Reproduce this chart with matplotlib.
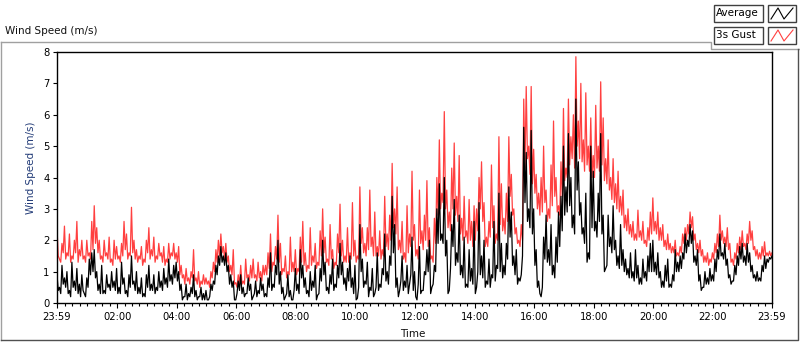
import numpy as np
import matplotlib
matplotlib.use("Agg")
import matplotlib.pyplot as plt
from matplotlib.patches import Rectangle

# minutes after 23:59 of the previous day, one reading every 5 minutes
minutes = np.arange(0, 1441, 5)

gust = [
    2.4, 1.4, 1.9, 2.45, 1.6, 2.2, 1.5, 2.0, 2.6, 1.7, 2.0, 1.5,
    2.0, 1.6, 2.6, 3.1, 2.4, 2.0, 1.5, 2.0, 1.6, 2.1, 1.4, 2.0,
    1.8, 1.5, 1.9, 2.6, 2.2, 1.6, 3.05, 2.0, 1.7, 1.5, 1.8, 1.4,
    2.0, 2.4, 1.7, 2.1, 1.5, 1.9, 1.6, 1.8, 1.4, 1.9, 1.6, 1.9,
    1.6, 1.8, 1.2, 0.9, 1.1, 0.8, 1.0, 1.7, 0.8, 1.0, 0.7, 0.9,
    0.8, 0.7, 1.0, 1.3, 1.7, 2.0, 2.2, 1.8, 1.9, 1.5, 1.2, 1.7,
    0.65, 0.9, 1.2, 0.7, 1.4, 0.9, 1.2, 1.4, 0.9, 1.3, 1.0, 1.2,
    1.2, 1.6, 2.2, 1.3, 1.8, 2.8, 1.9, 1.1, 1.5, 1.0, 2.1, 1.3,
    1.7, 1.1, 2.1, 2.6, 1.6, 1.2, 2.4, 1.5, 1.9, 1.3, 2.3, 3.0,
    2.1, 1.4, 2.5, 1.7, 1.3, 2.2, 3.15, 2.0, 1.5, 2.4, 1.6, 3.2,
    2.0, 1.5, 3.7, 2.4, 1.9, 2.4, 3.6, 2.1, 2.9, 1.8, 2.3, 1.7,
    3.4, 2.2, 2.8, 4.45, 3.0, 3.7, 2.0, 2.6, 1.6, 3.1, 2.2, 4.2,
    2.5, 1.7, 3.6, 2.3, 2.8, 3.9, 2.4, 1.5, 2.7, 4.0, 5.2, 3.5,
    6.1, 3.6, 2.9, 4.3, 5.1, 3.4, 4.7, 2.7, 3.4, 2.3, 3.3, 2.6,
    3.1, 3.0, 4.0, 4.5, 3.2, 2.1, 2.6, 4.4, 3.1, 2.2, 5.3, 3.8,
    2.7, 3.5, 5.3, 4.1, 3.0, 2.4, 2.0, 2.5, 6.5, 6.9, 5.0, 6.9,
    4.9, 4.1, 3.5, 4.0, 5.0, 3.6, 3.0, 4.4, 5.8, 4.0, 3.1, 4.5,
    6.2, 4.3, 6.5, 5.3, 6.0, 7.85, 5.8, 7.0, 5.2, 6.7, 5.0, 5.9,
    4.7, 6.3, 5.0, 7.05, 5.9, 4.6, 5.2, 4.0, 4.6, 3.8, 4.2, 3.4,
    3.6, 2.8, 3.0, 2.5, 2.6, 2.2, 2.96, 2.3, 2.6, 2.0, 2.4, 2.9,
    3.35, 2.6, 2.9, 2.4, 2.5, 2.0, 2.2, 1.9, 1.8, 2.0, 1.6, 1.8,
    2.2, 2.4, 2.5, 2.9, 2.75, 2.2, 1.9, 2.0, 1.7, 1.5, 1.6, 1.4,
    1.6, 1.9, 2.2, 2.8, 2.3, 2.1, 2.4, 1.9, 1.4, 1.6, 1.9, 2.1,
    2.3, 1.9, 2.2, 2.6, 2.3, 1.8, 1.7, 1.6, 1.8, 1.95, 1.6, 1.65,
    1.6,
]
# dips read between the 5-minute readings (at +2.5 min)
gust_dips = [
    1.5, 1.3, 1.6, 1.4, 1.5, 1.3, 1.4, 1.6, 1.3, 1.5, 1.4, 1.3,
    1.5, 1.4, 1.7, 1.9, 1.6, 1.4, 1.3, 1.5, 1.4, 1.3, 1.2, 1.4,
    1.4, 1.3, 1.5, 1.7, 1.4, 1.5, 1.6, 1.4, 1.3, 1.4, 1.2, 1.3,
    1.6, 1.4, 1.5, 1.3, 1.4, 1.5, 1.3, 1.2, 1.3, 1.4, 1.5, 1.4,
    1.3, 0.9, 0.8, 0.6, 0.7, 0.6, 0.8, 0.7, 0.6, 0.5, 0.6, 0.6,
    0.6, 0.5, 0.8, 1.0, 1.3, 1.5, 1.6, 1.4, 1.3, 1.0, 0.9, 0.6,
    0.5, 0.6, 0.6, 0.6, 0.8, 0.7, 0.8, 0.8, 0.7, 0.8, 0.7, 0.9,
    0.9, 1.1, 1.0, 1.2, 1.4, 1.3, 0.9, 1.0, 0.8, 0.9, 1.0, 1.0,
    0.9, 1.0, 1.3, 1.2, 1.0, 1.1, 1.2, 1.3, 1.1, 1.2, 1.5, 1.6,
    1.3, 1.2, 1.4, 1.1, 1.2, 1.6, 1.5, 1.3, 1.3, 1.3, 1.4, 1.5,
    1.3, 1.4, 1.9, 1.6, 1.5, 1.7, 1.8, 1.5, 1.5, 1.5, 1.4, 1.5,
    1.8, 1.7, 2.0, 2.4, 2.2, 1.7, 1.6, 1.4, 1.3, 1.6, 1.8, 2.0,
    1.5, 1.4, 1.9, 1.7, 2.0, 1.8, 1.4, 1.3, 1.9, 2.8, 3.0, 3.2,
    3.0, 2.4, 2.3, 3.0, 2.8, 2.6, 2.2, 2.0, 2.1, 1.9, 2.0, 1.8,
    2.0, 2.3, 3.0, 2.6, 1.8, 1.8, 2.1, 2.4, 1.9, 2.0, 2.5, 2.3,
    2.2, 2.6, 3.4, 2.8, 2.2, 1.9, 1.8, 2.0, 4.3, 4.6, 4.1, 3.8,
    3.5, 3.0, 2.8, 2.9, 3.2, 2.6, 2.7, 3.1, 3.4, 2.9, 2.8, 3.4,
    3.9, 4.0, 4.4, 4.6, 4.3, 5.0, 4.6, 4.5, 4.2, 4.4, 4.2, 4.0,
    4.0, 4.3, 4.2, 4.4, 3.9, 3.8, 3.6, 3.3, 3.2, 3.0, 2.9, 2.8,
    2.4, 2.3, 2.2, 2.1, 2.0, 2.0, 2.1, 2.0, 1.9, 1.8, 2.0, 2.2,
    2.3, 2.2, 2.0, 2.0, 1.8, 1.7, 1.7, 1.6, 1.6, 1.5, 1.5, 1.6,
    1.9, 2.0, 2.2, 2.4, 2.0, 1.7, 1.6, 1.5, 1.3, 1.3, 1.2, 1.3,
    1.4, 1.6, 1.8, 2.0, 1.9, 1.8, 1.7, 1.3, 1.2, 1.4, 1.6, 1.7,
    1.8, 1.7, 1.9, 2.0, 1.7, 1.5, 1.4, 1.4, 1.5, 1.5, 1.5, 1.5,
]

average = [
    0.9, 0.5, 1.2, 0.8, 1.0, 0.4, 1.3, 0.7, 1.1, 0.6, 0.9, 0.3,
    0.8, 1.4, 1.6, 1.7, 1.0, 0.6, 1.2, 0.4, 0.9, 0.6, 1.0, 0.7,
    1.1, 0.5, 1.3, 0.8, 0.4, 0.9, 1.5, 0.7, 1.0, 0.5, 0.8, 0.3,
    0.9, 1.2, 0.6, 0.9, 0.5, 1.0, 0.7, 1.1, 0.8, 1.4, 0.9, 1.2,
    1.3, 1.0, 0.6, 0.2, 0.6, 0.3, 0.5, 0.9, 0.4, 0.2, 0.5, 0.3,
    0.4, 0.1, 0.6, 0.7, 1.2, 1.5, 1.8, 1.5, 1.6, 1.2, 0.9, 0.7,
    0.1, 0.7, 0.9, 0.5, 0.3, 0.8, 0.6, 0.2, 0.7, 0.4, 0.8, 0.6,
    0.3, 0.8, 1.6, 0.6, 1.2, 2.0, 1.0, 0.5, 0.2, 0.9, 0.4, 0.1,
    1.1, 0.6, 1.7, 1.2, 0.8, 0.4, 1.0, 0.7, 1.2, 0.25, 1.1, 2.0,
    1.3, 0.5, 0.9, 1.4, 0.6, 1.2, 1.9, 1.3, 0.8, 1.1, 1.5, 0.8,
    1.2, 0.15, 2.5, 1.4, 0.7, 1.3, 0.5, 1.1, 0.3, 1.6, 0.6, 1.1,
    2.2, 1.0, 1.5, 3.4, 2.5, 0.8, 0.4, 1.5, 0.7, 1.2, 0.6, 2.1,
    1.0, 0.1, 1.8, 0.4, 1.0, 1.7, 2.0, 0.5, 1.2, 3.0, 3.8, 2.2,
    4.0, 2.0, 0.4, 2.5, 3.3, 1.6, 2.8, 1.2, 2.1, 0.6, 1.7, 1.1,
    2.6, 0.5, 3.2, 1.5, 2.0, 0.7, 1.4, 0.9, 2.6, 1.2, 3.5, 1.9,
    1.2, 1.9, 3.7, 2.9, 1.5, 1.7, 0.8, 0.9, 5.6, 4.8, 3.0, 5.5,
    3.0, 1.7, 0.7, 0.2, 2.1, 2.8, 1.7, 2.5, 1.2, 2.1, 2.9, 3.4,
    5.0, 3.7, 5.4, 4.0, 2.8, 6.5, 4.5, 3.2, 2.4, 3.5, 1.6, 5.0,
    4.2, 2.6, 3.5, 5.4, 2.8, 1.1, 2.8, 2.1, 3.1, 2.0, 1.5, 2.5,
    1.7, 1.4, 1.1, 1.6, 1.0, 1.7, 1.2, 0.8, 1.4, 1.0, 1.5, 1.9,
    2.0, 1.3, 1.6, 1.0, 0.7, 1.2, 1.4, 0.6, 0.9, 1.7, 1.3, 1.5,
    1.6, 2.2, 2.0, 2.5, 2.3, 1.5, 1.7, 0.9, 0.5, 1.0, 0.8, 1.1,
    0.9, 1.4, 1.7, 2.2, 1.6, 1.9, 1.4, 0.9, 0.7, 1.2, 1.5, 1.8,
    1.9, 1.5, 1.9, 1.6, 1.2, 0.9, 1.0, 0.8, 1.2, 1.5, 1.4, 1.45,
    1.5,
]
average_dips = [
    0.4, 0.3, 0.6, 0.5, 0.3, 0.2, 0.5, 0.4, 0.3, 0.2, 0.4, 0.2,
    0.5, 0.9, 1.0, 0.8, 0.4, 0.3, 0.3, 0.3, 0.5, 0.4, 0.5, 0.4,
    0.3, 0.3, 0.6, 0.3, 0.2, 0.5, 0.6, 0.4, 0.3, 0.3, 0.2, 0.2,
    0.5, 0.4, 0.4, 0.3, 0.4, 0.5, 0.4, 0.6, 0.5, 0.7, 0.6, 0.8,
    0.7, 0.4, 0.1, 0.2, 0.1, 0.2, 0.3, 0.2, 0.1, 0.2, 0.1, 0.1,
    0.1, 0.2, 0.4, 0.6, 0.9, 1.2, 1.3, 1.2, 1.0, 0.6, 0.5, 0.1,
    0.3, 0.4, 0.3, 0.2, 0.3, 0.4, 0.1, 0.3, 0.2, 0.3, 0.4, 0.2,
    0.2, 0.5, 0.4, 0.5, 0.9, 0.6, 0.3, 0.1, 0.3, 0.2, 0.1, 0.4,
    0.4, 0.3, 0.8, 0.5, 0.3, 0.2, 0.4, 0.5, 0.1, 0.3, 0.7, 0.9,
    0.4, 0.3, 0.6, 0.4, 0.5, 0.8, 0.9, 0.6, 0.4, 0.7, 0.5, 0.3,
    0.1, 0.5, 1.0, 0.5, 0.6, 0.2, 0.4, 0.2, 0.5, 0.4, 0.5, 0.9,
    0.7, 0.6, 1.2, 1.6, 0.5, 0.2, 0.7, 0.4, 0.5, 0.3, 0.9, 0.4,
    0.2, 0.6, 0.3, 0.4, 0.9, 1.0, 0.3, 0.6, 1.0, 1.9, 2.0, 1.9,
    1.5, 0.3, 1.1, 1.8, 1.2, 1.3, 0.9, 0.8, 0.5, 0.5, 0.7, 0.6,
    0.3, 1.0, 0.9, 0.8, 0.5, 0.6, 0.5, 0.8, 0.7, 1.1, 1.0, 0.8,
    0.9, 1.4, 2.1, 1.2, 0.9, 0.6, 0.7, 1.5, 3.2, 2.6, 2.4, 2.2,
    1.2, 0.5, 0.3, 0.5, 1.4, 1.3, 1.2, 0.9, 0.8, 1.3, 1.8, 2.3,
    2.8, 2.9, 3.1, 2.4, 2.2, 3.6, 2.8, 2.2, 1.9, 1.3, 1.4, 2.4,
    2.3, 2.1, 2.6, 2.2, 1.0, 1.2, 1.8, 1.6, 1.7, 1.2, 1.1, 1.2,
    1.0, 0.9, 0.8, 0.8, 0.7, 0.8, 0.6, 0.6, 0.8, 0.7, 1.0, 1.0,
    1.0, 0.9, 0.8, 0.5, 0.5, 0.7, 0.5, 0.5, 0.7, 1.0, 1.0, 1.1,
    1.4, 1.6, 1.8, 1.9, 1.3, 1.2, 0.7, 0.4, 0.5, 0.6, 0.6, 0.7,
    0.7, 1.0, 1.4, 1.5, 1.4, 1.2, 0.8, 0.6, 0.7, 0.9, 1.2, 1.4,
    1.3, 1.2, 1.3, 1.0, 0.8, 0.7, 0.7, 0.7, 1.0, 1.1, 1.3, 1.4,
]

tick_labels = ["23:59", "02:00", "04:00", "06:00", "08:00", "10:00", "12:00",
               "14:00", "16:00", "18:00", "20:00", "22:00", "23:59"]
series_names = ["Average", "3s Gust"]

W, H = 800, 342
FONT = "DejaVu Sans"
RED = "#ff4040"
NAVY = "#233c78"


def merge(readings, dips):
    # put each dip between the two readings around it
    t = np.empty(2 * len(minutes) - 1)
    v = np.empty_like(t)
    t[0::2] = minutes
    t[1::2] = minutes[:-1] + 2.5
    v[0::2] = readings
    v[1::2] = dips
    return t, v


fig = plt.figure(figsize=(W / 100, H / 100), dpi=100)

# frame, title and legend in pixel coordinates (y down)
deco = fig.add_axes([0, 0, 1, 1])
deco.set_xlim(0, W); deco.set_ylim(H, 0); deco.axis("off")
deco.plot([0.5, 711, 711, 799], [42, 42, 49, 49], color="#a0a0a0", lw=1)
deco.plot([0.5, 0.5], [42, 340], color="#a0a0a0", lw=1)
deco.plot([0.5, 797.5, 797.5], [340, 340, 49], color="#505050", lw=1)
deco.text(5, 31, "Wind Speed (m/s)", fontsize=7.5, family=FONT,
          ha="left", va="center", color="#111111")

for i, (name, col) in enumerate(zip(series_names, ["black", RED])):
    y0 = 5 + i * 22
    deco.add_patch(Rectangle((714, y0), 49, 17, fc="white", ec="#404040", lw=1))
    deco.add_patch(Rectangle((768, y0), 28, 17, fc="white", ec="#404040", lw=1))
    deco.text(716, y0 + 8.5, name, fontsize=7.5, family=FONT,
              ha="left", va="center", color="black")
    deco.plot([771, 778, 784, 793], [y0 + 14, y0 + 3, y0 + 14, y0 + 3],
              color=col, lw=0.8)

ax = fig.add_axes([57 / W, (H - 303) / H, 715 / W, 251 / H])
tg, vg = merge(gust, gust_dips)
ta, va = merge(average, average_dips)
ax.plot(tg, vg, color=RED, lw=0.9, zorder=2)
ax.plot(ta, va, color="black", lw=0.9, zorder=3)

ax.set_xlim(0, 1440)
ax.set_ylim(0, 8)
major = [0] + [1 + 120 * k for k in range(1, 12)] + [1440]
minor = [1 + 15 * k for k in range(1, 96) if (15 * k) % 120 != 0]
ax.set_xticks(major)
ax.set_xticklabels(tick_labels)
ax.set_xticks(minor, minor=True)
ax.set_yticks(range(0, 9))
ax.tick_params(axis="x", which="major", length=3.5, width=0.8, pad=3,
               labelsize=7.2, direction="out")
ax.tick_params(axis="x", which="minor", length=2.2, width=0.8, direction="out")
ax.tick_params(axis="y", length=3, width=0.8, pad=2.5, labelsize=7.2)
for lab in ax.get_xticklabels() + ax.get_yticklabels():
    lab.set_family(FONT)
for sp in ax.spines.values():
    sp.set_linewidth(1)
    sp.set_color("black")

fig.text(31 / W, 1 - 168 / H, "Wind Speed (m/s)", rotation=90, fontsize=7.5,
         family=FONT, color=NAVY, ha="center", va="center")
fig.text(413 / W, 1 - 334 / H, "Time", fontsize=7.5, family=FONT,
         color="#111111", ha="center", va="center")

fig.savefig("out.png", dpi=100)
